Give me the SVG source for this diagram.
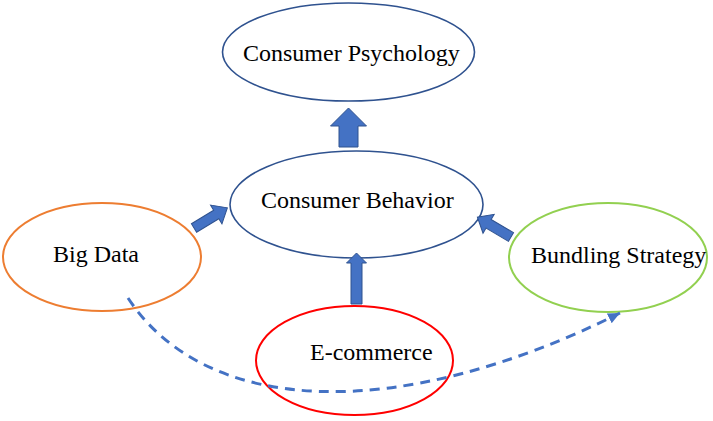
<svg xmlns="http://www.w3.org/2000/svg" width="713" height="421" viewBox="0 0 713 421">
  <style>
    .lbl { font-family: "Liberation Serif", "Times New Roman", serif; font-size: 24px; fill: #000; }
    .node { fill: #fff; }
    .blue { stroke: #2F528F; stroke-width: 1.6; }
    .blk { fill: #4472C4; stroke: #2F528F; stroke-width: 1; }
    .dash { fill: none; stroke: #4472C4; stroke-width: 3; stroke-dasharray: 10 7; }
  </style>
  <defs>
    <marker id="ah" markerUnits="userSpaceOnUse" markerWidth="14" markerHeight="14" viewBox="0 0 14 14" refX="12" refY="7" orient="auto">
      <path d="M0,1.5 L12,7 L0,12.5 Z" fill="#4472C4"/>
    </marker>
  </defs>
  <rect width="713" height="421" fill="#fff"/>
  <g id="consumer-psychology">
    <ellipse class="node blue" cx="348.5" cy="52" rx="126" ry="49"/>
    <text class="lbl" x="243" y="61">Consumer Psychology</text>
  </g>
  <g id="consumer-behavior">
    <ellipse class="node blue" cx="356.5" cy="204.5" rx="126.5" ry="53.5"/>
    <text class="lbl" x="261" y="208">Consumer Behavior</text>
  </g>
  <g id="big-data">
    <ellipse class="node" cx="102" cy="257" rx="99" ry="54" stroke="#ED7D31" stroke-width="2"/>
    <text class="lbl" x="53" y="262">Big Data</text>
  </g>
  <g id="bundling-strategy">
    <ellipse class="node" cx="608" cy="257.5" rx="99" ry="54.5" stroke="#92D050" stroke-width="2"/>
    <text class="lbl" x="531" y="263">Bundling Strategy</text>
  </g>
  <g id="e-commerce">
    <ellipse class="node" cx="354.5" cy="360.5" rx="98.5" ry="54.5" stroke="#FF0000" stroke-width="2"/>
    <text class="lbl" x="310" y="360">E-commerce</text>
  </g>
  <g id="connectors">
    <path class="blk" transform="translate(348.5,147) rotate(-90)" d="M0,-9.5 L21,-9.5 L21,-18 L39,0 L21,18 L21,9.5 L0,9.5 Z"/>
    <path class="blk" transform="translate(356.5,304) rotate(-90)" d="M0,-5.5 L41,-5.5 L41,-10 L51,0 L41,10 L41,5.5 L0,5.5 Z"/>
    <path class="blk" transform="translate(194,228) rotate(-31.2)" d="M0,-5 L26,-5 L26,-11 L39,0 L26,11 L26,5 L0,5 Z"/>
    <path class="blk" transform="translate(511,237) rotate(-149.5)" d="M0,-5 L26,-5 L26,-11 L39,0 L26,11 L26,5 L0,5 Z"/>
    <path class="dash" d="M128,298 C205,415 395,425 620,313" marker-end="url(#ah)"/>
  </g>
</svg>
